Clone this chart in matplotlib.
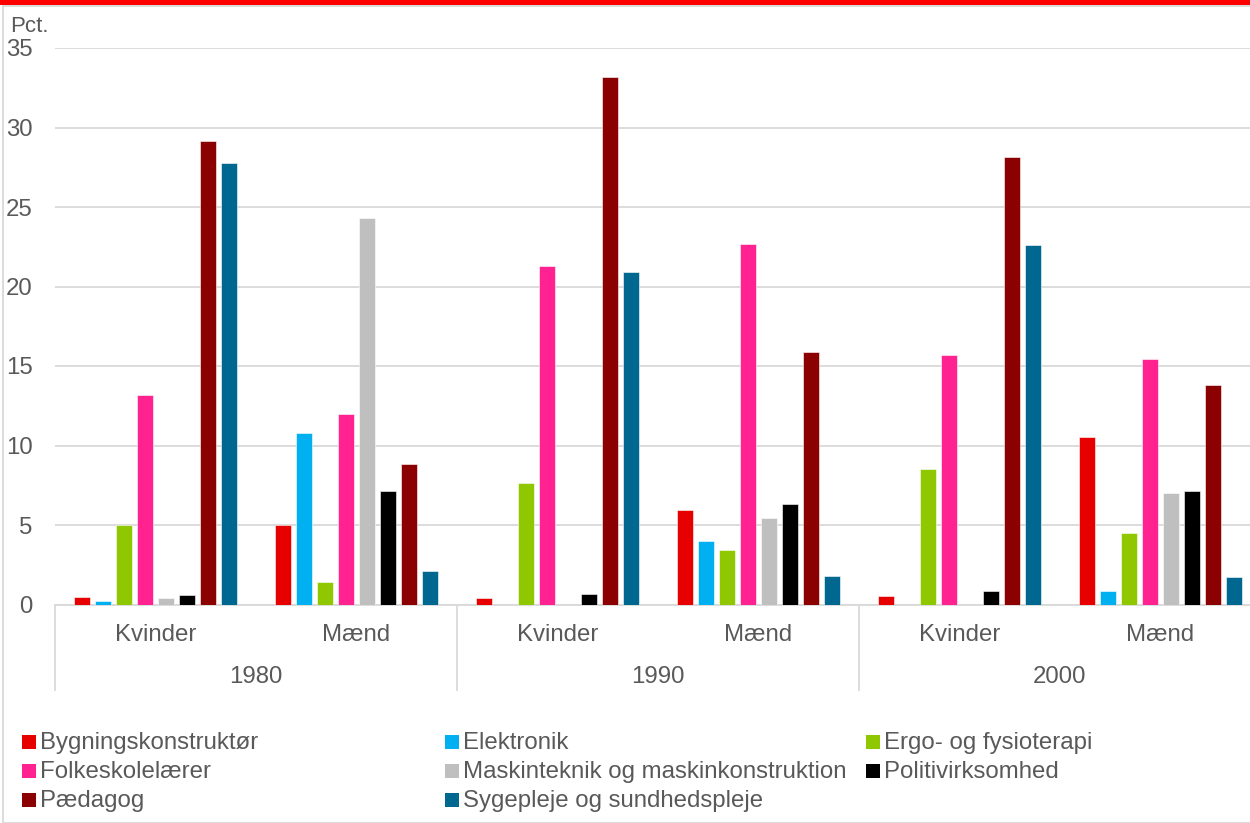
import matplotlib
matplotlib.use("Agg")
import matplotlib.pyplot as plt
from matplotlib.patches import Rectangle
import matplotlib.transforms as mtransforms
import numpy as np

plt.rcParams['font.family'] = ['Liberation Sans', 'DejaVu Sans']

years = ["1980", "1990", "2000"]
genders = ["Kvinder", "Mænd"]
categories = ["Kvinder", "Mænd", "Kvinder", "Mænd", "Kvinder", "Mænd"]

series_names = ["Bygningskonstruktør", "Elektronik", "Ergo- og fysioterapi",
                "Folkeskolelærer", "Maskinteknik og maskinkonstruktion",
                "Politivirksomhed", "Pædagog", "Sygepleje og sundhedspleje"]

bygning = [0.46, 5.02, 0.38, 5.94, 0.56, 10.55]
elektronik = [0.23, 10.8, 0.0, 4.0, 0.0, 0.88]
ergo = [5.0, 1.4, 7.65, 3.4, 8.5, 4.52]
folke = [13.2, 11.98, 21.3, 22.7, 15.7, 15.43]
maskin = [0.44, 24.3, 0.0, 5.46, 0.0, 7.01]
politi = [0.57, 7.12, 0.63, 6.33, 0.88, 7.16]
paedagog = [29.15, 8.86, 33.2, 15.87, 28.17, 13.8]
syge = [27.77, 2.11, 20.9, 1.78, 22.6, 1.7]

series_values = [bygning, elektronik, ergo, folke, maskin, politi, paedagog, syge]
colors = ["#E60000", "#00B0F0", "#8FC700", "#FF2290", "#BFBFBF",
          "#000000", "#8B0000", "#006890"]

W, H = 1250, 823
fig = plt.figure(figsize=(W / 100, H / 100), dpi=100)

ax_left, ax_right = 55, 1261
ax_bottom, ax_top = 604.5, 48
ax = fig.add_axes([ax_left / W, (H - ax_bottom) / H,
                   (ax_right - ax_left) / W, (ax_bottom - ax_top) / H])

x = np.arange(len(categories))
pitch = 0.1045
width = 0.084
for j, (vals, col) in enumerate(zip(series_values, colors)):
    ax.bar(x + (j - 3.5) * pitch, vals, width=width, color=col,
           edgecolor="white", linewidth=0.4, zorder=3)

ax.set_xlim(-0.5, 5.5)
ax.set_ylim(0, 35)
ax.set_yticks(np.arange(0, 36, 5))
ax.yaxis.grid(True, color="#D9D9D9", linewidth=1.3, zorder=0)
ax.set_axisbelow(True)
for s in ["left", "right", "top"]:
    ax.spines[s].set_visible(False)
ax.spines["bottom"].set_color("#D9D9D9")
ax.spines["bottom"].set_linewidth(1.3)
ax.tick_params(axis="y", length=0, pad=16, labelsize=17.3, labelcolor="#595959")
ax.set_xticks(x)
ax.set_xticklabels(categories)
ax.tick_params(axis="x", length=0, pad=14, labelsize=17.3, labelcolor="#595959")

axh = ax_bottom - ax_top
trans = mtransforms.blended_transform_factory(ax.transData, ax.transAxes)
for i, yr in enumerate(years):
    ax.text(2 * i + 0.5, -(677 - ax_bottom) / axh, yr, transform=trans,
            ha="center", va="center", fontsize=17.3, color="#595959")
for b in [-0.5, 1.5, 3.5]:
    ax.plot([b, b], [0, -(690 - ax_bottom) / axh], transform=trans,
            color="#D9D9D9", linewidth=1.3, clip_on=False)

# "Pct." label
fig.text(10 / W, 1 - 26 / H, "Pct.", ha="left", va="center",
         fontsize=16, color="#595959")

# frame and red banner
fig.patches.append(Rectangle((3 / W, 0), 1.2, 1 - 6 / H, transform=fig.transFigure,
                             fill=False, edgecolor="#D9D9D9", linewidth=1.3))
fig.patches.append(Rectangle((0, 1 - 5 / H), 1, 5 / H, transform=fig.transFigure,
                             facecolor="#FF0000", edgecolor="none"))

# legend (row-wise, equal column widths)
col_x = [22, 445, 866]
row_y = [742, 771, 800]
sq = 14
for k, (name, col) in enumerate(zip(series_names, colors)):
    r, c = divmod(k, 3)
    cx, cy = col_x[c], row_y[r]
    fig.patches.append(Rectangle((cx / W, 1 - (cy + sq / 2) / H), sq / W, sq / H,
                                 transform=fig.transFigure, facecolor=col,
                                 edgecolor="none"))
    fig.text((cx + sq + 4) / W, 1 - (cy + 1) / H, name, ha="left", va="center",
             fontsize=17.3, color="#595959")

fig.savefig("out.png", dpi=100)
